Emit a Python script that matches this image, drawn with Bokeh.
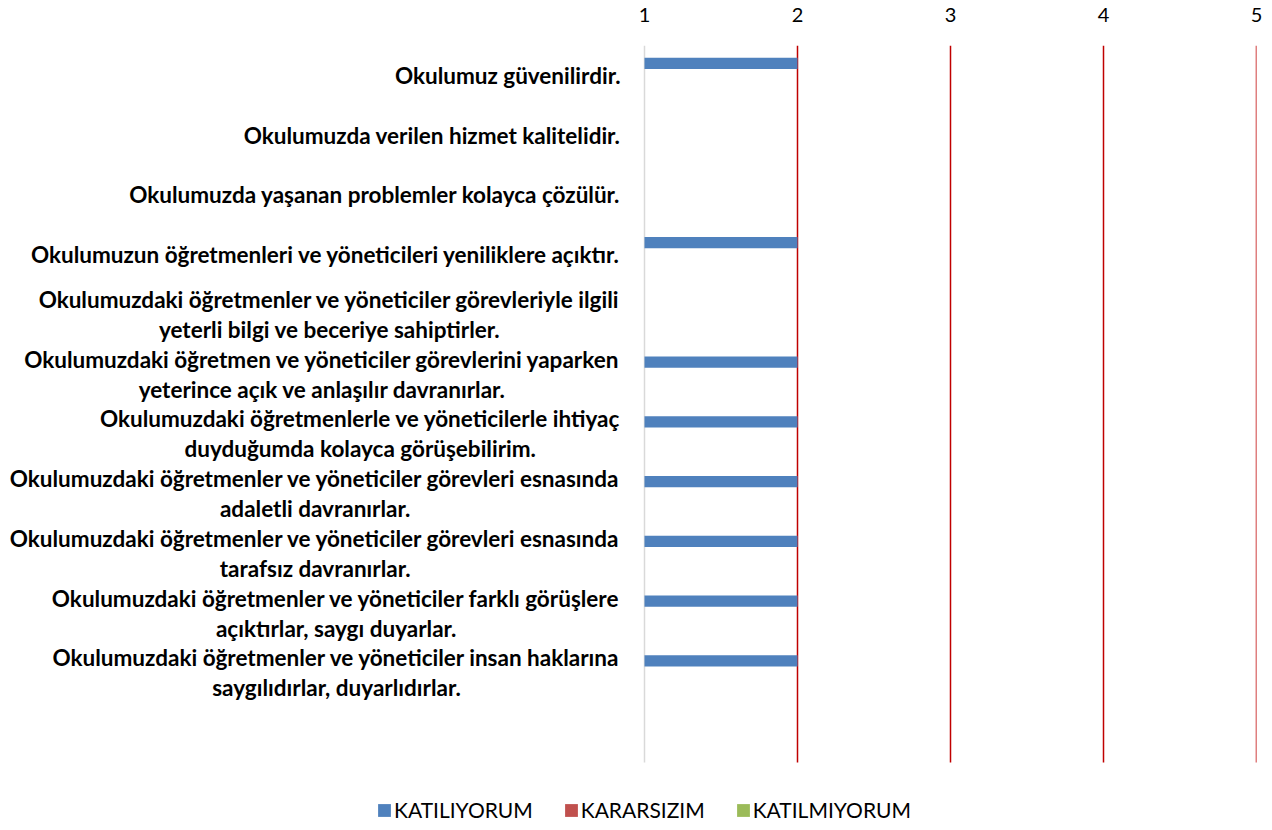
import numpy as np
from bokeh.plotting import figure
from bokeh.models import FixedTicker, Legend, LegendItem, ColumnDataSource, Range1d
from bokeh.core.properties import value
from bokeh.embed import file_html
from bokeh.resources import INLINE

categories = [
    "Okulumuz güvenilirdir.",
    "Okulumuzda verilen hizmet kalitelidir.",
    "Okulumuzda yaşanan problemler kolayca çözülür.",
    "Okulumuzun öğretmenleri ve yöneticileri yeniliklere açıktır.",
    "Okulumuzdaki öğretmenler ve yöneticiler görevleriyle ilgili\nyeterli bilgi ve beceriye sahiptirler.",
    "Okulumuzdaki öğretmen ve yöneticiler görevlerini yaparken\nyeterince açık ve anlaşılır davranırlar.",
    "Okulumuzdaki öğretmenlerle ve yöneticilerle ihtiyaç\nduyduğumda kolayca görüşebilirim.",
    "Okulumuzdaki öğretmenler ve yöneticiler görevleri esnasında\nadaletli davranırlar.",
    "Okulumuzdaki öğretmenler ve yöneticiler görevleri esnasında\ntarafsız davranırlar.",
    "Okulumuzdaki öğretmenler ve yöneticiler farklı görüşlere\naçıktırlar, saygı duyarlar.",
    "Okulumuzdaki öğretmenler ve yöneticiler insan haklarına\nsaygılıdırlar, duyarlıdırlar.",
    "",
]
katiliyorum = [2, None, None, 2, None, 2, 2, 2, 2, 2, 2, None]
kararsizim = [None, None, None, None, None, None, None, None, None, None, None, None]
katilmiyorum = [None, None, None, None, None, None, None, None, None, None, None, None]
series_names = ["KATILIYORUM", "KARARSIZIM", "KATILMIYORUM"]
x_ticks = [1, 2, 3, 4, 5]
grid_ticks = [2, 3, 4, 5]

colors = ["#4F81BD", "#C0504D", "#9BBB59"]

# layout (pixels)
W, H = 1264, 822
BORDER_RIGHT, BORDER_TOP = 8, 45
PLOT_BOTTOM = 762           # bottom edge of the category area
LABEL_AREA = 644            # space left of the value axis, used for category labels
n = len(categories)
unit_px = (W - BORDER_RIGHT - LABEL_AREA) / (x_ticks[-1] - x_ticks[0])
x_start = x_ticks[0] - LABEL_AREA / unit_px
band_px = (PLOT_BOTTOM - BORDER_TOP) / n
y_top = 0.5
y_cat_end = n + 0.5
y_bottom = y_cat_end + (H - PLOT_BOTTOM) / band_px

pos = np.arange(1, n + 1, dtype=float)
src = ColumnDataSource(dict(
    cat=categories,
    pos=pos,
    s0=np.array(katiliyorum, dtype=float),
    s1=np.array(kararsizim, dtype=float),
    s2=np.array(katilmiyorum, dtype=float),
))

p = figure(
    width=W, height=H,
    y_range=Range1d(y_bottom, y_top),
    x_range=Range1d(x_start, x_ticks[-1]),
    x_axis_location="above", y_axis_location=None,
    output_backend="svg", toolbar_location=None,
    min_border_left=0, min_border_right=BORDER_RIGHT,
    min_border_top=BORDER_TOP, min_border_bottom=0,
)
p.outline_line_color = None
p.xgrid.grid_line_color = None
p.ygrid.grid_line_color = None

# value gridlines (red) and axis line at the minimum (light grey)
p.segment(x0=grid_ticks, x1=grid_ticks, y0=y_top, y1=y_cat_end,
          line_color="#C00000", line_width=1.5)
p.segment(x0=[x_ticks[0]], x1=[x_ticks[0]], y0=y_top, y1=y_cat_end,
          line_color="#D9D9D9", line_width=1.5)

offsets = [-0.2, 0.0, 0.2]
bar_h = 0.19
renderers = []
for i, col in enumerate(["s0", "s1", "s2"]):
    src.data["y%d" % i] = pos + offsets[i]
    r = p.hbar(y="y%d" % i, left=x_ticks[0], right=col,
               height=bar_h, source=src, fill_color=colors[i], line_color=None)
    renderers.append(r)

# category labels (right-aligned block, centered lines)
p.text(x=x_ticks[0], y="pos", text="cat", source=src, x_offset=-24,
       anchor="center_right", text_align="center", text_baseline="middle",
       text_font=value("Lato"), text_font_style="bold", text_font_size="22.5px",
       text_color="#000000", text_line_height=1.12)

# x axis (top)
xa = p.xaxis[0]
xa.ticker = FixedTicker(ticks=x_ticks)
xa.axis_line_color = None
xa.major_tick_line_color = None
xa.minor_tick_line_color = None
xa.major_label_text_font = "Lato"
xa.major_label_text_font_size = "20px"
xa.major_label_text_color = "#000000"
xa.major_label_standoff = 18

legend = Legend(
    items=[LegendItem(label=series_names[i], renderers=[renderers[i]]) for i in range(3)],
    orientation="horizontal", location=(376, 0),
    border_line_color=None, background_fill_alpha=0,
    label_text_font="Lato", label_text_font_size="21px", label_text_color="#000000",
    glyph_width=16, glyph_height=16, label_standoff=2, spacing=30,
    padding=0, margin=0,
)
p.add_layout(legend)

open("out.html", "w").write(file_html(p, INLINE))
